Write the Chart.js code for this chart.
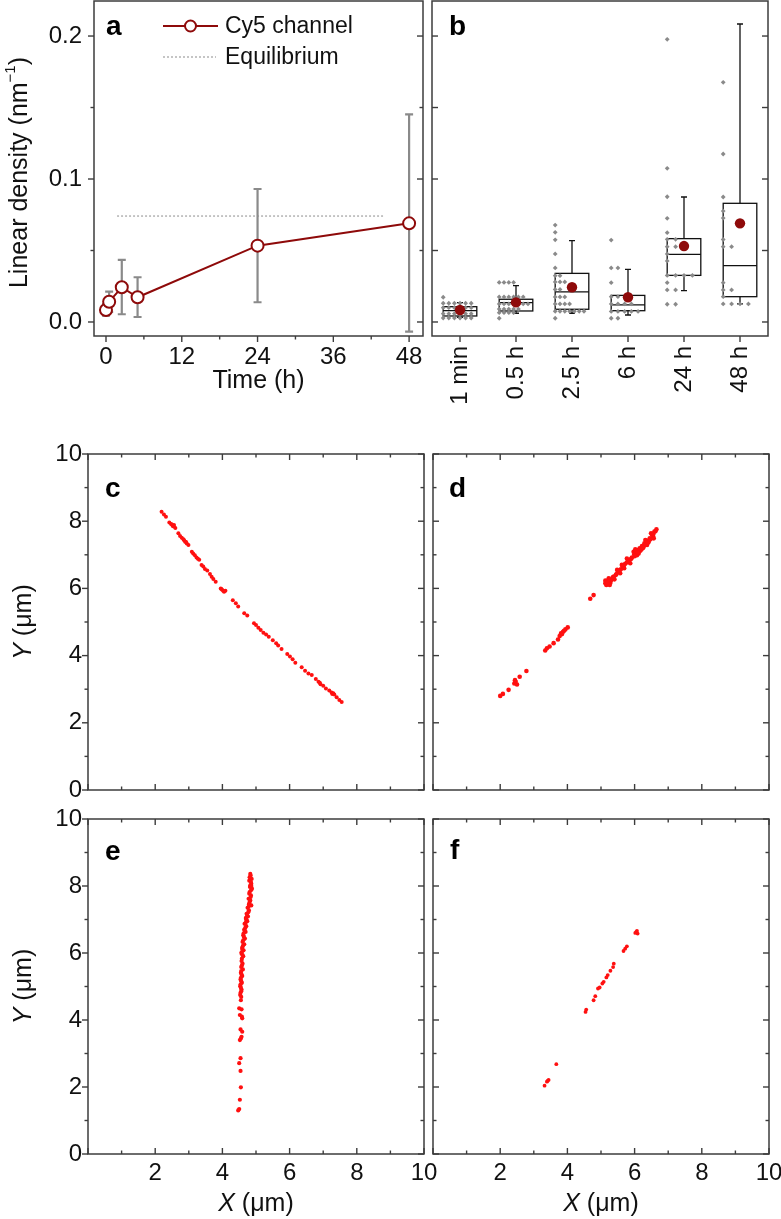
<!DOCTYPE html>
<html>
<head>
<meta charset="utf-8">
<script src="https://cdn.jsdelivr.net/npm/chart.js@4.4.0/dist/chart.umd.min.js"></script>
<style>
  body { margin: 0; background: #fff; width: 781px; height: 1219px; position: relative; overflow: hidden; }
  canvas { position: absolute; }
</style>
</head>
<body>
<canvas id="pa" width="432" height="420" style="left:0;top:0"></canvas>
<canvas id="pb" width="353" height="420" style="left:428px;top:0"></canvas>
<canvas id="pc" width="430" height="385" style="left:0;top:420px"></canvas>
<canvas id="pd" width="353" height="385" style="left:428px;top:420px"></canvas>
<canvas id="pe" width="440" height="419" style="left:0;top:800px"></canvas>
<canvas id="pf" width="353" height="419" style="left:428px;top:800px"></canvas>
<script>
// ---- panel a: mean linear density vs time
var times = [0, 0.5, 2.5, 5, 24, 48];
var meanDensity = [0.0084, 0.0142, 0.0243, 0.0173, 0.0534, 0.0690];
var errLow = [0.0045, 0.0070, 0.0054, 0.0035, 0.0138, -0.0068];
var errHigh = [0.0125, 0.0212, 0.0434, 0.0313, 0.0930, 0.1452];
var equilibrium = 0.0741;
var eqRange = [1.75, 44];

// ---- panel b: box plots per incubation time
var groups = ['1 min', '0.5 h', '2.5 h', '6 h', '24 h', '48 h'];
var q1 = [0.0042, 0.0077, 0.0089, 0.0079, 0.0326, 0.0177];
var q3 = [0.0107, 0.0159, 0.0340, 0.0186, 0.0583, 0.0830];
var median = [0.0079, 0.0135, 0.0210, 0.0119, 0.0473, 0.0394];
var whiskerLow = [0.0033, 0.0061, 0.0061, 0.0049, 0.0219, 0.0126];
var whiskerHigh = [0.0135, 0.0254, 0.0569, 0.0368, 0.0874, 0.2084];
var boxMeans = [0.0084, 0.0137, 0.0243, 0.0173, 0.0531, 0.0690];

var g1min = [0.0173, 0.0131, 0.0131, 0.0131, 0.0131, 0.0131, 0.0131,
  0.0100, 0.0100, 0.0100, 0.0100, 0.0100, 0.0100,
  0.0058, 0.0058, 0.0058, 0.0058, 0.0058, 0.0058,
  0.0028, 0.0028, 0.0028, 0.0028, 0.0028, 0.0028];
var g05h = [0.0277, 0.0277, 0.0277, 0.0277,
  0.0175, 0.0175, 0.0175, 0.0175, 0.0175, 0.0175,
  0.0126, 0.0126, 0.0126, 0.0126, 0.0126, 0.0126, 0.0126,
  0.0090, 0.0090, 0.0090, 0.0090, 0.0090,
  0.0065, 0.0065, 0.0065, 0.0065, 0.0026];
var g25h = [0.0678, 0.0627, 0.0575, 0.0476, 0.0378, 0.0324, 0.0324,
  0.0280, 0.0280, 0.0280, 0.0228, 0.0228, 0.0175, 0.0175, 0.0175,
  0.0126, 0.0126, 0.0126, 0.0126,
  0.0075, 0.0075, 0.0075, 0.0075, 0.0075, 0.0075, 0.0075, 0.0026];
var g6h = [0.0573, 0.0378, 0.0378, 0.0275, 0.0177, 0.0177,
  0.0126, 0.0126, 0.0126, 0.0126,
  0.0074, 0.0074, 0.0074, 0.0074, 0.0074, 0.0026, 0.0026];
var g24h = [0.1977, 0.1075, 0.0876, 0.0725, 0.0625, 0.0578, 0.0578,
  0.0527, 0.0527, 0.0476, 0.0427, 0.0326, 0.0326, 0.0326, 0.0326,
  0.0275, 0.0224, 0.0224, 0.0124, 0.0124];
var g48h = [0.1676, 0.1175, 0.0874, 0.0776, 0.0727, 0.0577, 0.0527, 0.0527,
  0.0275, 0.0224, 0.0224, 0.0177, 0.0126, 0.0126, 0.0126, 0.0126];

// ---- panels c-f: localisations (X, Y in um)
var cX = [2.19, 2.26, 2.32, 2.42, 2.47, 2.52, 2.56, 2.60, 2.69, 2.74, 2.79, 2.84, 2.89, 2.94, 2.99,
  3.09, 3.13, 3.18, 3.23, 3.31, 3.38, 3.43, 3.48, 3.55, 3.63, 3.68, 3.73, 3.80, 3.95, 4.00, 4.05, 4.09,
  4.31, 4.40, 4.47, 4.65, 4.74, 4.94, 5.00, 5.07, 5.14, 5.22, 5.30, 5.38, 5.50, 5.60, 5.66, 5.76,
  5.93, 6.01, 6.09, 6.17, 6.36, 6.46, 6.56, 6.66, 6.78, 6.86, 6.92, 7.00, 7.08, 7.18, 7.25, 7.30,
  7.40, 7.48, 7.55, 2.50, 2.55, 2.86, 2.92, 3.97, 4.03, 7.27, 7.33, 6.90, 3.27];
var cY = [8.28, 8.20, 8.13, 7.96, 7.92, 7.86, 7.89, 7.80, 7.64, 7.56, 7.51, 7.46, 7.39, 7.34, 7.29,
  7.09, 7.04, 6.99, 6.92, 6.85, 6.70, 6.65, 6.58, 6.53, 6.43, 6.35, 6.28, 6.20, 6.00, 5.95, 5.90, 5.93,
  5.65, 5.56, 5.46, 5.26, 5.19, 4.96, 4.91, 4.83, 4.76, 4.68, 4.63, 4.56, 4.46, 4.37, 4.30, 4.20,
  4.05, 3.97, 3.89, 3.79, 3.65, 3.55, 3.47, 3.42, 3.30, 3.22, 3.15, 3.10, 3.02, 2.96, 2.90, 2.88,
  2.76, 2.68, 2.62, 7.90, 7.84, 7.43, 7.38, 5.98, 5.92, 2.86, 2.84, 3.19, 6.88];

var dX = [2.00, 2.08, 2.25, 2.42, 2.46, 2.50, 2.58, 2.78, 3.34, 3.39, 3.47, 3.59, 3.72, 3.77, 3.81,
  3.87, 3.94, 4.01, 4.68, 4.78, 5.13, 5.18, 5.23, 5.28, 5.30, 5.33, 5.38, 5.46, 5.52, 5.59, 5.62,
  5.65, 5.69, 5.72, 5.77, 5.85, 5.92, 5.97, 5.99, 6.05, 6.07, 6.09, 6.15, 6.17, 6.22, 6.27, 6.29,
  6.37, 6.42, 6.45, 6.52, 6.55, 6.59, 6.65, 5.23, 5.40, 5.48, 5.57, 5.77, 5.87, 6.02, 6.12, 6.32,
  6.37, 6.49, 6.57, 5.16, 5.26, 5.13, 5.20, 5.35, 5.44, 5.55, 5.67, 5.80, 5.90, 6.00, 6.10, 6.20,
  6.25, 6.34, 6.40, 6.47, 6.56, 6.62, 3.84, 3.90, 2.44];
var dY = [2.80, 2.86, 2.98, 3.17, 3.22, 3.14, 3.37, 3.54, 4.15, 4.22, 4.27, 4.37, 4.48, 4.58, 4.66,
  4.71, 4.78, 4.84, 5.69, 5.80, 6.15, 6.20, 6.15, 6.17, 6.25, 6.27, 6.35, 6.43, 6.50, 6.57, 6.70,
  6.65, 6.60, 6.73, 6.77, 6.85, 6.92, 7.09, 7.02, 7.09, 6.99, 7.14, 7.19, 7.12, 7.26, 7.24, 7.34,
  7.42, 7.39, 7.49, 7.59, 7.54, 7.69, 7.76, 6.30, 6.27, 6.55, 6.45, 6.89, 6.75, 7.16, 7.04, 7.44,
  7.29, 7.64, 7.49, 6.10, 6.10, 6.23, 6.18, 6.33, 6.40, 6.52, 6.66, 6.80, 6.88, 6.96, 7.06, 7.16,
  7.20, 7.30, 7.36, 7.46, 7.62, 7.70, 4.64, 4.74, 3.27];

var eX = [4.84, 4.87, 4.80, 4.86, 4.82, 4.88, 4.81, 4.85, 4.78, 4.83, 4.80, 4.86, 4.75, 4.79, 4.72,
  4.76, 4.70, 4.74, 4.66, 4.71, 4.65, 4.69, 4.62, 4.67, 4.60, 4.65, 4.59, 4.63, 4.57, 4.62, 4.58,
  4.60, 4.56, 4.61, 4.55, 4.59, 4.54, 4.58, 4.53, 4.57, 4.54, 4.56, 4.55,
  4.50, 4.57, 4.52, 4.59, 4.54, 4.59, 4.57, 4.52, 4.54, 4.50, 4.54, 4.55, 4.52, 4.50, 4.47,
  4.81, 4.85, 4.83, 4.85, 4.80, 4.84, 4.81, 4.78, 4.77, 4.74, 4.72, 4.69, 4.68, 4.66, 4.64, 4.62,
  4.61, 4.59, 4.60, 4.57, 4.58, 4.56, 4.57, 4.55, 4.56, 4.54, 4.55, 4.56, 4.53, 4.57, 4.63, 4.70,
  4.79, 4.86, 4.83, 4.58, 4.55];
var eY = [8.31, 8.21, 8.16, 8.07, 7.97, 7.92, 7.82, 7.72, 7.62, 7.57, 7.47, 7.42, 7.35, 7.27, 7.17,
  7.09, 7.02, 6.95, 6.87, 6.80, 6.70, 6.63, 6.53, 6.43, 6.33, 6.26, 6.16, 6.08, 5.98, 5.90, 5.83,
  5.68, 5.58, 5.51, 5.41, 5.31, 5.21, 5.11, 5.01, 4.91, 4.81, 4.69, 4.59,
  4.35, 4.32, 4.15, 4.05, 3.72, 3.65, 3.50, 3.40, 2.86, 2.71, 2.48, 1.99, 1.62, 1.34, 1.30,
  8.26, 8.12, 8.02, 7.87, 7.77, 7.67, 7.52, 7.38, 7.22, 7.12, 6.98, 6.90, 6.75, 6.66, 6.48, 6.38,
  6.21, 6.12, 5.94, 5.76, 5.63, 5.46, 5.36, 5.26, 5.16, 5.06, 4.96, 4.86, 4.75, 6.02, 6.58, 7.05,
  7.45, 8.00, 8.36, 4.10, 3.45];

var fX = [6.05, 6.09, 6.02, 6.07, 5.77, 5.72, 5.67, 5.38, 5.36, 5.28, 5.20, 5.16, 5.08, 5.04,
  4.96, 4.91, 4.83, 4.78, 4.56, 4.54, 3.67, 3.44, 3.39, 3.41, 3.32];
var fY = [6.63, 6.58, 6.60, 6.66, 6.20, 6.13, 6.06, 5.68, 5.58, 5.47, 5.34, 5.27, 5.14, 5.09,
  4.97, 4.94, 4.71, 4.59, 4.31, 4.24, 2.68, 2.21, 2.16, 2.18, 2.04];

// ---------------------------------------------------------------
var FAMILY = "'Liberation Sans', Arial, Helvetica, sans-serif";
var DARKRED = '#8e0a0a';
var FRAME = '#3c3c3c';

Chart.defaults.font.family = FAMILY;
Chart.defaults.font.size = 24;
Chart.defaults.color = '#111';
Chart.defaults.animation = false;
Chart.defaults.responsive = false;
Chart.defaults.devicePixelRatio = 1;
Chart.defaults.plugins.legend.display = false;
Chart.defaults.plugins.tooltip.enabled = false;
Chart.defaults.layout.autoPadding = false;

function fixedAxis(size, horizontal) {
  return function (s) {
    if (horizontal) s.height = size; else s.width = size;
    s.paddingLeft = s.paddingRight = s.paddingTop = s.paddingBottom = 0;
  };
}
function setTicks(list) {
  return function (s) { s.ticks = list.map(function (v) { return { value: v }; }); };
}
function range(a, b, step) {
  var out = [];
  for (var v = a; v <= b + 1e-9; v += step) out.push(+v.toFixed(4));
  return out;
}
function pairs(xs, ys) {
  return xs.map(function (x, i) { return { x: x, y: ys[i] }; });
}

function axisBase(extra) {
  var o = { grid: { display: false, drawTicks: false }, border: { display: false } };
  for (var k in extra) o[k] = extra[k];
  return o;
}

// rich text helper: parts = [[text, font, dy]]
function richText(ctx, parts, x, y, rotate) {
  ctx.save();
  ctx.translate(x, y);
  if (rotate) ctx.rotate(-Math.PI / 2);
  ctx.textBaseline = 'middle';
  ctx.textAlign = 'left';
  ctx.fillStyle = '#111';
  var total = 0;
  parts.forEach(function (p) { ctx.font = p[1]; total += ctx.measureText(p[0]).width; });
  var cx = -total / 2;
  parts.forEach(function (p) {
    ctx.font = p[1];
    ctx.fillText(p[0], cx, p[2] || 0);
    cx += ctx.measureText(p[0]).width;
  });
  ctx.restore();
}

// frame, tick marks, panel letter, axis titles
function deco(opts) {
  return {
    id: 'deco',
    afterDraw: function (chart) {
      var ctx = chart.ctx, a = chart.chartArea;
      var xs = chart.scales.x, ys = chart.scales.y;
      ctx.save();
      ctx.strokeStyle = FRAME;
      ctx.lineWidth = 1.5;
      ctx.strokeRect(a.left, a.top, a.right - a.left, a.bottom - a.top);
      ctx.lineWidth = 1.4;
      opts.sides.forEach(function (sd) {
        var sets = [[sd.major || [], sd.len || 6], [sd.minor || [], sd.minorLen || 3.5]];
        sets.forEach(function (set) {
          set[0].forEach(function (v) {
            var len = set[1] * (sd.out ? -1 : 1);
            ctx.beginPath();
            if (sd.side === 'left' || sd.side === 'right') {
              var py = ys.getPixelForValue(v);
              var x0 = sd.side === 'left' ? a.left : a.right;
              var dir = sd.side === 'left' ? 1 : -1;
              ctx.moveTo(x0, py); ctx.lineTo(x0 + dir * len, py);
            } else {
              var px = xs.getPixelForValue(v);
              var y0 = sd.side === 'top' ? a.top : a.bottom;
              var dy = sd.side === 'top' ? 1 : -1;
              ctx.moveTo(px, y0); ctx.lineTo(px, y0 + dy * len);
            }
            ctx.stroke();
          });
        });
      });
      ctx.fillStyle = '#000';
      ctx.font = 'bold 28px ' + FAMILY;
      ctx.textAlign = 'left';
      ctx.textBaseline = 'alphabetic';
      ctx.fillText(opts.label, a.left + opts.labelPos[0], a.top + opts.labelPos[1]);
      if (opts.extra) opts.extra(chart, ctx, a);
      ctx.restore();
    }
  };
}

var ticks10 = range(0, 10, 2), minor10 = range(1, 9, 2);
var yTitleUm = [['Y', 'italic 25px ' + FAMILY], [' (\u03bcm)', '25px ' + FAMILY]];
var xTitleUm = [['X', 'italic 25px ' + FAMILY], [' (\u03bcm)', '25px ' + FAMILY]];

// ---------------- panel a ----------------
var errorBars = {
  id: 'errorBars',
  beforeDatasetsDraw: function (chart) {
    var ctx = chart.ctx, xs = chart.scales.x, ys = chart.scales.y;
    ctx.save();
    ctx.strokeStyle = '#8a8a8a';
    ctx.lineWidth = 2.2;
    times.forEach(function (t, i) {
      var x = xs.getPixelForValue(t);
      var lo = ys.getPixelForValue(errLow[i]), hi = ys.getPixelForValue(errHigh[i]);
      ctx.beginPath();
      ctx.moveTo(x, lo); ctx.lineTo(x, hi);
      ctx.moveTo(x - 4, lo); ctx.lineTo(x + 4, lo);
      ctx.moveTo(x - 4, hi); ctx.lineTo(x + 4, hi);
      ctx.stroke();
    });
    ctx.restore();
  }
};

new Chart(document.getElementById('pa'), {
  type: 'scatter',
  data: {
    datasets: [{
      data: pairs(times, meanDensity),
      showLine: true,
      borderColor: DARKRED,
      borderWidth: 2,
      pointRadius: 6,
      pointBorderWidth: 2,
      pointBackgroundColor: '#fff',
      pointBorderColor: DARKRED
    }, {
      data: [{ x: eqRange[0], y: equilibrium }, { x: eqRange[1], y: equilibrium }],
      showLine: true,
      borderColor: '#8c8c8c',
      borderWidth: 1,
      borderDash: [2, 2],
      pointRadius: 0
    }]
  },
  options: {
    layout: { padding: { left: 0, top: 1, right: 9, bottom: 0 } },
    scales: {
      x: axisBase({
        type: 'linear', min: -1.9, max: 50.2,
        afterBuildTicks: setTicks([0, 12, 24, 36, 48]),
        afterFit: fixedAxis(84, true),
        ticks: { padding: 7, maxRotation: 0, autoSkip: false }
      }),
      y: axisBase({
        min: -0.0098, max: 0.2245,
        afterBuildTicks: setTicks([0, 0.1, 0.2]),
        afterFit: fixedAxis(94, false),
        ticks: { padding: 12, callback: function (v) { return v.toFixed(1); } }
      })
    }
  },
  plugins: [errorBars, deco({
    label: 'a', labelPos: [12, 34],
    sides: [
      { side: 'left', out: true, major: [0, 0.1, 0.2], minor: [0.05, 0.15] },
      { side: 'right', major: [0, 0.1, 0.2], minor: [0.05, 0.15] },
      { side: 'bottom', out: true, major: [0, 12, 24, 36, 48], minor: [6, 18, 30, 42] }
    ],
    extra: function (chart, ctx, a) {
      // legend
      ctx.strokeStyle = DARKRED; ctx.lineWidth = 2;
      ctx.beginPath(); ctx.moveTo(163, 26); ctx.lineTo(218, 26); ctx.stroke();
      ctx.fillStyle = '#fff';
      ctx.beginPath(); ctx.arc(190.5, 26, 5.5, 0, Math.PI * 2); ctx.fill(); ctx.stroke();
      ctx.strokeStyle = '#8c8c8c'; ctx.lineWidth = 1; ctx.setLineDash([2, 2]);
      ctx.beginPath(); ctx.moveTo(163, 57); ctx.lineTo(216, 57); ctx.stroke();
      ctx.setLineDash([]);
      ctx.fillStyle = '#111'; ctx.font = '23px ' + FAMILY; ctx.textBaseline = 'middle';
      ctx.fillText('Cy5 channel', 225, 27);
      ctx.fillText('Equilibrium', 225, 58);
      // axis titles
      richText(ctx, [['Time (h)', '25px ' + FAMILY]], (a.left + a.right) / 2, a.bottom + 45);
      richText(ctx, [['Linear density (nm', '25px ' + FAMILY], ['\u22121', '15px ' + FAMILY, -9],
        [')', '25px ' + FAMILY]], 20, (a.top + a.bottom) / 2 + 4, true);
    }
  })]
});

// ---------------- panel b ----------------
var BOXW = 0.6;
var grayPts = [];
[g1min, g05h, g25h, g6h, g24h, g48h].forEach(function (vals, i) {
  var counts = {}, maxRow = 0, seen = {};
  vals.forEach(function (v) { counts[v] = (counts[v] || 0) + 1; maxRow = Math.max(maxRow, counts[v]); });
  var step = BOXW / maxRow;
  vals.forEach(function (v) {
    var k = seen[v] || 0;
    seen[v] = k + 1;
    grayPts.push({ x: i - BOXW / 2 + k * step, y: v });
  });
});

var boxes = {
  id: 'boxes',
  beforeDatasetsDraw: function (chart) {
    var ctx = chart.ctx, xs = chart.scales.x, ys = chart.scales.y;
    ctx.save();
    ctx.strokeStyle = '#111';
    ctx.lineWidth = 1.3;
    groups.forEach(function (g, i) {
      var xl = xs.getPixelForValue(i - BOXW / 2), xr = xs.getPixelForValue(i + BOXW / 2);
      var xc = xs.getPixelForValue(i), cap = (xr - xl) * 0.09;
      var y1 = ys.getPixelForValue(q1[i]), y3 = ys.getPixelForValue(q3[i]);
      var ym = ys.getPixelForValue(median[i]);
      var wl = ys.getPixelForValue(whiskerLow[i]), wh = ys.getPixelForValue(whiskerHigh[i]);
      ctx.strokeRect(xl, y3, xr - xl, y1 - y3);
      ctx.beginPath();
      ctx.moveTo(xl, ym); ctx.lineTo(xr, ym);
      ctx.moveTo(xc, y3); ctx.lineTo(xc, wh);
      ctx.moveTo(xc, y1); ctx.lineTo(xc, wl);
      ctx.moveTo(xc - cap, wh); ctx.lineTo(xc + cap, wh);
      ctx.moveTo(xc - cap, wl); ctx.lineTo(xc + cap, wl);
      ctx.stroke();
    });
    ctx.restore();
  }
};

new Chart(document.getElementById('pb'), {
  type: 'scatter',
  data: {
    datasets: [{
      data: boxMeans.map(function (m, i) { return { x: i, y: m }; }),
      pointRadius: 5.2,
      pointBackgroundColor: DARKRED,
      pointBorderWidth: 0
    }, {
      data: grayPts,
      pointStyle: 'rectRot',
      pointRadius: 2.4,
      pointBackgroundColor: '#8a8a8a',
      pointBorderWidth: 0
    }]
  },
  options: {
    layout: { padding: { left: 0, top: 1, right: 13, bottom: 0 } },
    scales: {
      x: axisBase({
        type: 'linear', min: -0.5, max: 5.5,
        afterBuildTicks: setTicks([0, 1, 2, 3, 4, 5]),
        afterFit: fixedAxis(84, true),
        ticks: { padding: 10, minRotation: 90, maxRotation: 90, autoSkip: false,
          callback: function (v) { return groups[v]; } }
      }),
      y: axisBase({
        min: -0.0098, max: 0.2245,
        afterFit: fixedAxis(4, false),
        ticks: { display: false }
      })
    }
  },
  plugins: [boxes, deco({
    label: 'b', labelPos: [17, 34],
    sides: [
      { side: 'left', major: [0, 0.05, 0.1, 0.15, 0.2] },
      { side: 'right', major: [0, 0.05, 0.1, 0.15, 0.2] },
      { side: 'bottom', out: true, major: [0, 1, 2, 3, 4, 5] }
    ]
  })]
});

// ---------------- panels c-f ----------------
function locPanel(id, xs, ys, o) {
  new Chart(document.getElementById(id), {
    type: 'scatter',
    data: {
      datasets: [{
        data: pairs(xs, ys),
        pointRadius: o.radius || 1.9,
        pointBackgroundColor: '#ff1010',
        pointBorderWidth: 0
      }]
    },
    options: {
      layout: { padding: o.padding },
      scales: {
        x: axisBase({
          type: 'linear', min: 0, max: 10,
          afterBuildTicks: setTicks([2, 4, 6, 8, 10]),
          afterFit: fixedAxis(o.xh, true),
          ticks: { display: o.xLabels, padding: 5, maxRotation: 0, autoSkip: false }
        }),
        y: axisBase({
          min: 0, max: 10,
          afterBuildTicks: setTicks(ticks10),
          afterFit: fixedAxis(o.yw, false),
          ticks: { display: o.yLabels, padding: 6 }
        })
      }
    },
    plugins: [deco({
      label: o.label, labelPos: o.labelPos,
      sides: [
        { side: 'left', out: o.yLabels, major: ticks10, minor: minor10 },
        { side: 'right', major: ticks10, minor: minor10 },
        { side: 'top', major: ticks10, minor: minor10 },
        { side: 'bottom', major: ticks10, minor: minor10 }
      ],
      extra: function (chart, ctx, a) {
        if (o.yLabels) richText(ctx, yTitleUm, 24, (a.top + a.bottom) / 2, true);
        if (o.xLabels) richText(ctx, xTitleUm, (a.left + a.right) / 2, a.bottom + 50);
      }
    })]
  });
}

locPanel('pc', cX, cY, { label: 'c', labelPos: [17, 43], padding: { left: 0, top: 34, right: 6, bottom: 0 },
  xh: 15, yw: 88, xLabels: false, yLabels: true, radius: 2 });
locPanel('pd', dX, dY, { label: 'd', labelPos: [16, 43], padding: { left: 0, top: 34, right: 12, bottom: 0 },
  xh: 15, yw: 5, xLabels: false, yLabels: false, radius: 2.3 });
locPanel('pe', eX, eY, { label: 'e', labelPos: [17, 41], padding: { left: 0, top: 19, right: 16, bottom: 0 },
  xh: 65, yw: 88, xLabels: true, yLabels: true, radius: 2.1 });
locPanel('pf', fX, fY, { label: 'f', labelPos: [17, 40], padding: { left: 0, top: 19, right: 12, bottom: 0 },
  xh: 65, yw: 5, xLabels: true, yLabels: false });
</script>
</body>
</html>
